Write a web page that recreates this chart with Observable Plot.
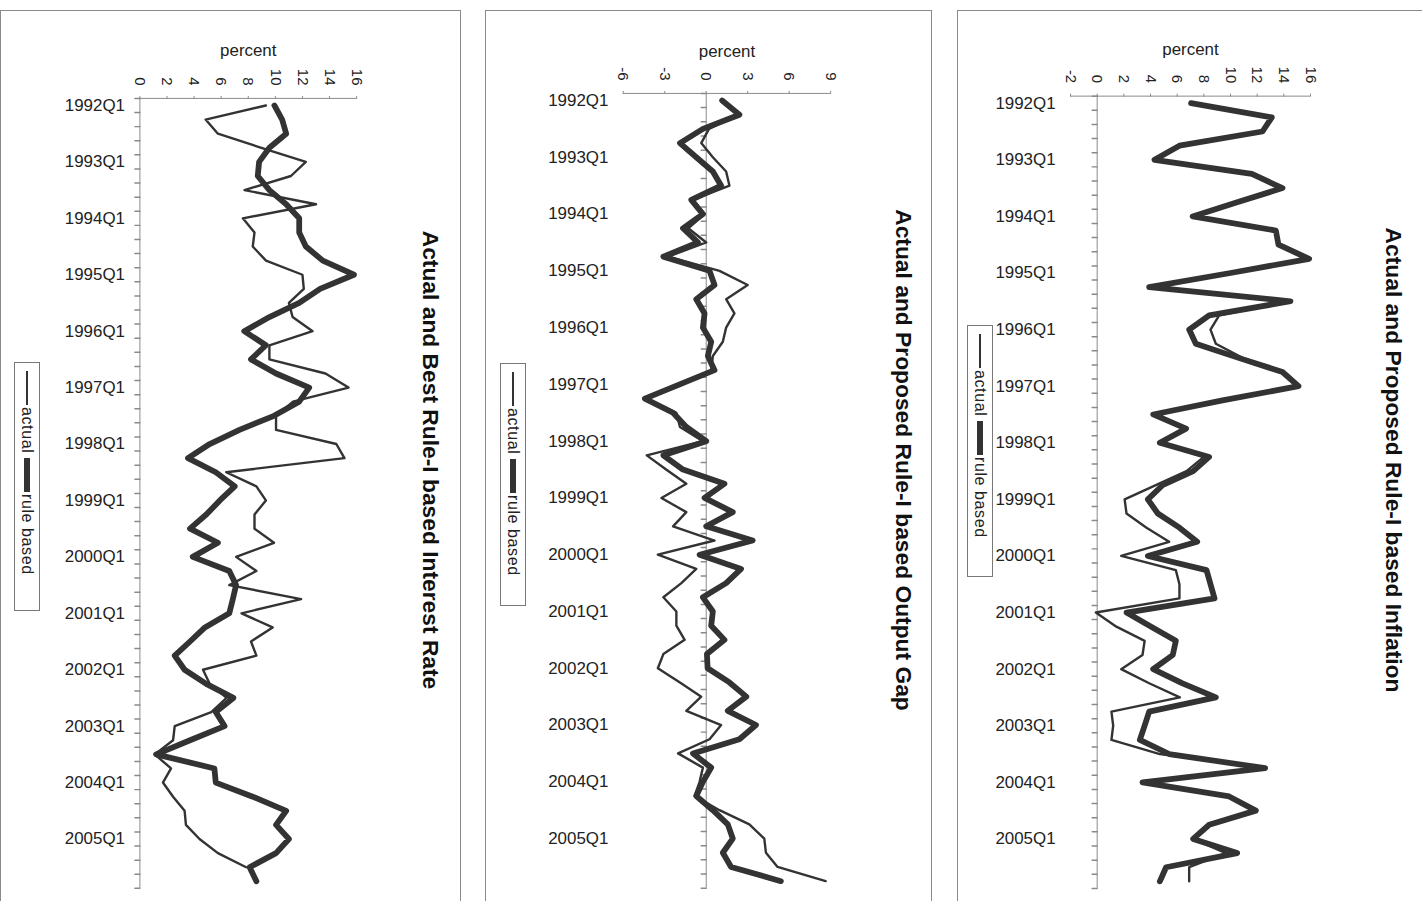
<!DOCTYPE html>
<html>
<head>
<meta charset="utf-8">
<script src="https://cdn.jsdelivr.net/npm/d3@7"></script>
<script src="https://cdn.jsdelivr.net/npm/@observablehq/plot@0.6"></script>
<style>
  html, body { margin: 0; padding: 0; background: #fff; width: 1422px; height: 901px; overflow: hidden; }
  body { font-family: "Liberation Sans", Arial, sans-serif; color: #222; position: relative; }
  .panel { position: absolute; border: 1px solid #8a8a8a; background: #fff; overflow: hidden; }
  .panel svg { position: absolute; left: -1px; top: -1px; }
  .title { position: absolute; writing-mode: vertical-rl; font-weight: bold; font-size: 22.8px; white-space: nowrap; transform: translate(-50%, -50%); color: #111; }
  .legend { position: absolute; border: 1px solid #777; background: #fff; display: flex; flex-direction: column; align-items: center; box-sizing: border-box; padding-top: 8px; }
  .legend .sw { background: #333; height: 34px; margin-bottom: 2px; }
  .legend .lt { writing-mode: vertical-rl; font-size: 16px; letter-spacing: 0.6px; white-space: nowrap; margin-bottom: 5px; color: #222; }
</style>
</head>
<body>
<script>
// ---------- data ----------
const yearLabels = ["1992Q1","1993Q1","1994Q1","1995Q1","1996Q1","1997Q1","1998Q1",
                    "1999Q1","2000Q1","2001Q1","2002Q1","2003Q1","2004Q1","2005Q1"];
const quarterCount = 56; // 1992Q1 .. 2005Q4
const seriesNames = ["actual", "rule based"];
const titles = [
  "Actual and Best Rule-I based Interest Rate",
  "Actual and Proposed Rule-I based Output Gap",
  "Actual and Proposed Rule-I based Inflation"
];
const axisLabel = "percent";

const rateTicks = [0, 2, 4, 6, 8, 10, 12, 14, 16];
const gapTicks = [-6, -3, 0, 3, 6, 9];
const inflTicks = [-2, 0, 2, 4, 6, 8, 10, 12, 14, 16];

const rateActual = [9.3, 4.85, 5.76, 8.97, 12.25, 11.15, 7.72, 13.0, 7.6, 8.46, 8.33, 9.31, 12.0, 12.1,
  11.0, 11.27, 12.75, 9.56, 9.56, 13.7, 15.4, 11.3, 10.05, 10.05, 14.5, 15.1, 6.37, 8.6,
  9.3, 8.46, 8.46, 9.9, 7.1, 8.6, 6.6, 11.9, 7.5, 9.8, 8.2, 8.6, 4.66, 5.15,
  6.4, 5.27, 2.57, 2.45, 1.1, 2.3, 1.7, 2.45, 3.3, 3.4, 4.4, 5.76, 7.84, null];
const rateRule = [9.93, 10.5, 10.8, 9.56, 8.8, 8.7, 9.56, 10.8, 11.76, 11.76, 12.25, 13.5, 15.8, 13.3,
  11.76, 9.56, 7.7, 9.3, 8.2, 10.05, 12.5, 11.76, 9.9, 7.35, 5.15, 3.55, 5.6, 7.0,
  5.9, 4.9, 3.7, 5.76, 3.9, 6.6, 7.1, 6.86, 6.6, 4.8, 3.7, 2.57, 3.3, 4.9,
  6.9, 5.6, 6.25, 3.7, 1.2, 5.5, 5.6, 8.33, 10.8, 10.05, 11.0, 10.05, 8.1, 8.6];

const gapActual = [1.1, 2.3, 0.2, -0.36, 0.48, 1.44, 1.68, -0.96, -0.12, -1.3, 0.0, -2.76, 0.96, 3.0,
  1.44, 2.04, 1.44, 1.2, 0.48, 0.36, -1.68, -4.3, -2.16, -1.9, -0.24, -4.3, -2.9, -1.44,
  -3.24, -1.44, -2.4, 0.6, -3.5, -0.72, -1.8, -3.1, -2.16, -2.16, -1.56, -3.1, -3.5, -1.9,
  -0.36, -1.44, 1.08, 0.24, -2.04, -0.24, -0.48, -0.84, 0.96, 3.12, 4.2, 4.32, 5.16, 8.64];
const gapRule = [1.15, 2.4, -0.24, -1.9, -0.72, 0.48, 1.08, -1.08, -0.24, -1.68, -0.6, -3.1, 0.24, 0.6,
  -0.72, -0.12, -0.24, 0.36, 0.12, 0.6, -1.92, -4.44, -2.4, -1.44, 0.0, -3.1, -1.68, 1.32,
  -0.12, 1.92, 0.0, 3.36, -0.48, 2.52, 1.44, -0.24, 0.48, 0.36, 1.32, 0.05, 0.1, 1.68,
  2.9, 1.56, 3.6, 2.4, -0.96, 0.36, -0.24, -0.72, 0.48, 1.56, 1.92, 1.2, 1.8, 5.4];

const inflActual = [7.04, 13.1, 12.4, 6.17, 4.3, 11.5, 13.6, 10.5, 7.16, 13.4, 13.6, 15.9, 10.0, 4.0,
  14.5, 9.15, 8.5, 8.9, 10.9, 13.9, 14.9, 9.4, 4.2, 6.67, 4.7, 8.0, 6.7, 4.4,
  2.06, 2.2, 3.7, 5.4, 1.8, 5.9, 6.17, 6.17, -0.1, 1.44, 3.56, 3.4, 1.8, 3.9,
  6.2, 1.07, 1.2, 1.07, 4.7, 12.6, 3.4, 9.9, 11.9, 8.4, 7.2, 9.65, 6.9, 6.9];
const inflRule = [7.04, 13.1, 12.4, 6.17, 4.3, 11.6, 13.9, 10.5, 7.16, 13.4, 13.6, 15.9, 10.0, 3.9,
  14.5, 8.4, 6.9, 7.4, 10.6, 13.9, 15.1, 9.4, 4.2, 6.67, 4.7, 8.4, 7.2, 4.9,
  3.8, 4.55, 6.17, 7.5, 3.8, 8.2, 8.5, 8.8, 2.2, 4.05, 5.9, 5.67, 4.2, 6.4,
  8.9, 3.9, 3.56, 3.2, 5.4, 12.6, 3.4, 9.9, 11.9, 8.4, 7.2, 10.5, 5.17, 4.7];

// ---------- layout (pixels) ----------
const panels = [
  { left: 0,   top: 10, width: 461, height: 900, mL: 140,   mR: 103.3, mT: 88.3, pctDy: -48,
    ticks: rateTicks, actual: rateActual, rule: rateRule, title: titles[0], titleX: 430,
    legend: { left: 14, top: 362, width: 26, height: 249 } },
  { left: 485, top: 10, width: 447, height: 900, mL: 138.4, mR: 100.3, mT: 83.3, pctDy: -42,
    ticks: gapTicks, actual: gapActual, rule: gapRule, title: titles[1], titleX: 903,
    legend: { left: 500, top: 363, width: 26, height: 243 } },
  { left: 957, top: 10, width: 470, height: 900, mL: 113.5, mR: 115.5, mT: 86, pctDy: -47,
    ticks: inflTicks, actual: inflActual, rule: inflRule, title: titles[2], titleX: 1393,
    legend: { left: 967, top: 325, width: 26, height: 252 } }
];

const tickShape = { draw(context, length) { context.moveTo(0, 0); context.lineTo(0, -length); } };
const lineColor = "#333";
const axisColor = "#8a8a8a";

panels.forEach(p => {
  const table = d3.range(quarterCount).map(i => ({ pos: i + 0.5, actual: p.actual[i], rule: p.rule[i] }));
  const labelPositions = yearLabels.map((_, k) => 4 * k + 0.5);
  const svgHeight = p.height;
  const chart = Plot.plot({
    width: p.width,
    height: svgHeight,
    marginLeft: p.mL,
    marginRight: p.mR,
    marginTop: p.mT,
    marginBottom: (p.top + svgHeight) - 891.7,
    style: { fontFamily: "'Liberation Sans', Arial, sans-serif", color: "#222", background: "transparent", overflow: "visible" },
    x: { domain: d3.extent(p.ticks) },
    y: { domain: [0, quarterCount], reverse: true },
    marks: [
      Plot.ruleY([0], { stroke: axisColor, strokeWidth: 1 }),
      Plot.ruleX([0], { stroke: axisColor, strokeWidth: 1 }),
      Plot.vector(d3.range(quarterCount + 1), { x: 0, y: d => d, length: 5, rotate: -90, anchor: "start", stroke: axisColor, shape: tickShape }),
      Plot.axisX(p.ticks, { anchor: "top", tickRotate: 90, tickSize: 3, tickPadding: 10, fontSize: 15, tickFormat: d => String(d), label: null, stroke: axisColor, fill: "#222" }),
      Plot.axisY(labelPositions, { anchor: "left", tickSize: 0, tickPadding: 15, fontSize: 17, tickFormat: d => yearLabels[Math.round((d - 0.5) / 4)], label: null, fill: "#222" }),
      Plot.text([axisLabel], { frameAnchor: "top", lineAnchor: "middle", dy: p.pctDy, fontSize: 17, fill: "#222" }),
      Plot.line(table, { x: "actual", y: "pos", stroke: lineColor, strokeWidth: 2.4, strokeLinejoin: "round", curve: "linear" }),
      Plot.line(table, { x: "rule", y: "pos", stroke: lineColor, strokeWidth: 5.8, strokeLinejoin: "round", curve: "linear" })
    ]
  });
  const div = document.createElement("div");
  div.className = "panel";
  div.style.left = p.left + "px";
  div.style.top = p.top + "px";
  div.style.width = (p.width - 2) + "px";
  div.style.height = (p.height - 2) + "px";
  div.appendChild(chart);
  document.body.appendChild(div);

  const t = document.createElement("div");
  t.className = "title";
  t.textContent = p.title;
  t.style.left = p.titleX + "px";
  t.style.top = "460px";
  document.body.appendChild(t);

  const lg = document.createElement("div");
  lg.className = "legend";
  Object.assign(lg.style, { left: p.legend.left + "px", top: p.legend.top + "px", width: p.legend.width + "px", height: p.legend.height + "px" });
  seriesNames.forEach((name, k) => {
    const sw = document.createElement("div");
    sw.className = "sw";
    sw.style.width = (k === 0 ? 2.4 : 5.8) + "px";
    const tx = document.createElement("div");
    tx.className = "lt";
    tx.textContent = name;
    lg.appendChild(sw);
    lg.appendChild(tx);
  });
  document.body.appendChild(lg);
});
</script>
</body>
</html>
